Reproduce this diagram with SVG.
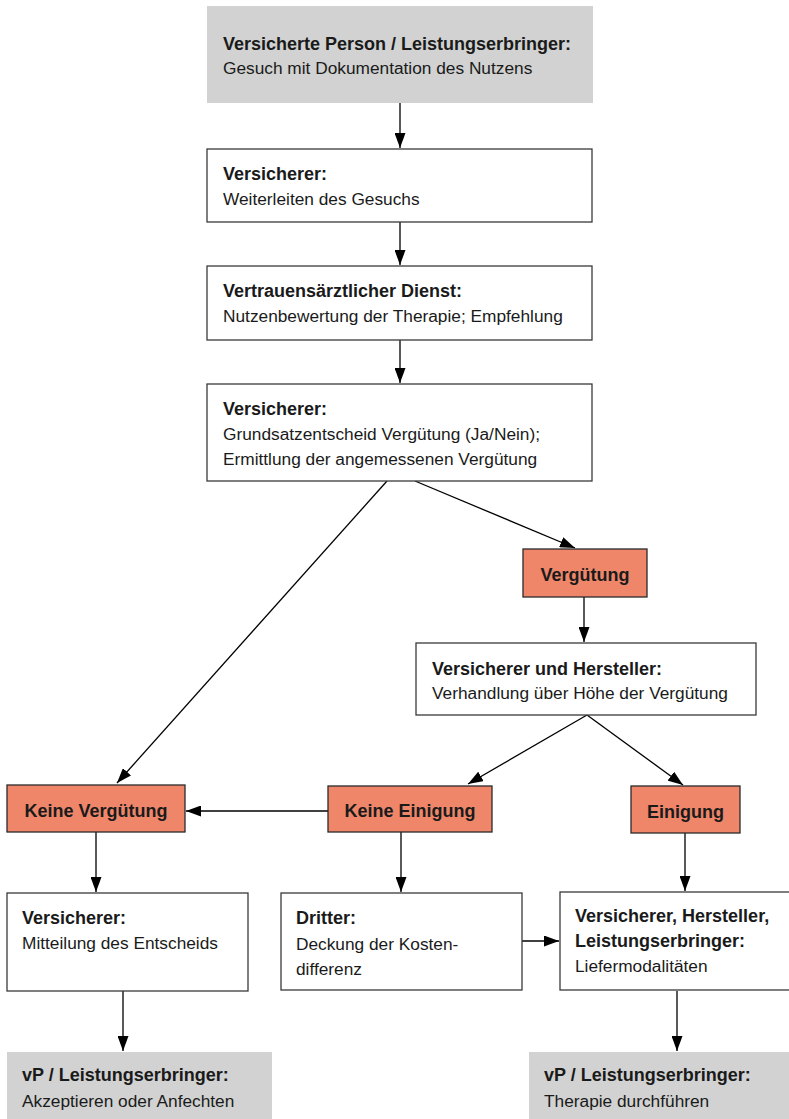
<svg xmlns="http://www.w3.org/2000/svg" width="789" height="1119" viewBox="0 0 789 1119">
<style>
.g{fill:#d1d2d1;stroke:none}
.w{fill:#ffffff;stroke:#3a3a3a;stroke-width:1.3}
.o{fill:#ef866a;stroke:#2a2a2a;stroke-width:1.3}
text{font-family:"Liberation Sans",Arial,sans-serif;fill:#1a1a1a}
.b{font-weight:bold;font-size:18px}
.r{font-size:17.3px}
.c{text-anchor:middle}
.l{stroke:#000;stroke-width:1.3;fill:none;marker-end:url(#ah)}
</style>
<defs>
<marker id="ah" viewBox="0 0 15 11" refX="15" refY="5.5" markerWidth="15" markerHeight="11" markerUnits="userSpaceOnUse" orient="auto">
<path d="M0,0 L15,5.5 L0,11 Z" fill="#000"/>
</marker>
</defs>
<g id="connectors">
<line class="l" x1="400" y1="103" x2="400" y2="148"/>
<line class="l" x1="400" y1="222" x2="400" y2="265"/>
<line class="l" x1="400" y1="340" x2="400" y2="383"/>
<line class="l" x1="387" y1="481" x2="117" y2="783"/>
<line class="l" x1="415" y1="481" x2="575" y2="548"/>
<line class="l" x1="584" y1="597" x2="584" y2="642"/>
<line class="l" x1="587" y1="715" x2="468" y2="784"/>
<line class="l" x1="587" y1="715" x2="683" y2="785"/>
<line class="l" x1="328" y1="811" x2="186" y2="811"/>
<line class="l" x1="96" y1="832" x2="96" y2="892"/>
<line class="l" x1="401" y1="832" x2="401" y2="892"/>
<line class="l" x1="685" y1="833" x2="685" y2="891"/>
<line class="l" x1="522" y1="941" x2="559" y2="941"/>
<line class="l" x1="123" y1="991" x2="123" y2="1051"/>
<line class="l" x1="677" y1="991" x2="677" y2="1051"/>
</g>
<g id="n1">
<rect class="g" x="207" y="6" width="386" height="97"/>
<text class="b" x="223" y="50">Versicherte Person / Leistungserbringer:</text>
<text class="r" x="223" y="74">Gesuch mit Dokumentation des Nutzens</text>
</g>
<g id="n2">
<rect class="w" x="207" y="149" width="385" height="73"/>
<text class="b" x="223" y="180">Versicherer:</text>
<text class="r" x="223" y="205">Weiterleiten des Gesuchs</text>
</g>
<g id="n3">
<rect class="w" x="207" y="266" width="385" height="74"/>
<text class="b" x="223" y="297">Vertrauensärztlicher Dienst:</text>
<text class="r" x="223" y="322">Nutzenbewertung der Therapie; Empfehlung</text>
</g>
<g id="n4">
<rect class="w" x="207" y="384" width="385" height="97"/>
<text class="b" x="223" y="415">Versicherer:</text>
<text class="r" x="223" y="440">Grundsatzentscheid Vergütung (Ja/Nein);</text>
<text class="r" x="223" y="465">Ermittlung der angemessenen Vergütung</text>
</g>
<g id="n5">
<rect class="o" x="523" y="549" width="124" height="48"/>
<text class="b c" x="585" y="581">Vergütung</text>
</g>
<g id="n6">
<rect class="w" x="416" y="643" width="340" height="72"/>
<text class="b" x="432" y="675">Versicherer und Hersteller:</text>
<text class="r" x="432" y="699">Verhandlung über Höhe der Vergütung</text>
</g>
<g id="n7">
<rect class="o" x="7" y="785" width="178" height="47"/>
<text class="b c" x="96" y="817">Keine Vergütung</text>
</g>
<g id="n8">
<rect class="o" x="328" y="786" width="164" height="46"/>
<text class="b c" x="410" y="817">Keine Einigung</text>
</g>
<g id="n9">
<rect class="o" x="631" y="786" width="109" height="47"/>
<text class="b c" x="685.5" y="818">Einigung</text>
</g>
<g id="n10">
<rect class="w" x="7" y="893" width="241" height="98"/>
<text class="b" x="22" y="924">Versicherer:</text>
<text class="r" x="22" y="949">Mitteilung des Entscheids</text>
</g>
<g id="n11">
<rect class="w" x="281" y="893" width="241" height="97"/>
<text class="b" x="296" y="924">Dritter:</text>
<text class="r" x="296" y="950">Deckung der Kosten-</text>
<text class="r" x="296" y="975">differenz</text>
</g>
<g id="n12">
<rect class="w" x="560" y="892" width="240" height="98"/>
<text class="b" x="575" y="922">Versicherer, Hersteller,</text>
<text class="b" x="575" y="947">Leistungserbringer:</text>
<text class="r" x="575" y="972">Liefermodalitäten</text>
</g>
<g id="n13">
<rect class="g" x="7" y="1052" width="265" height="67"/>
<text class="b" x="22" y="1081">vP / Leistungserbringer:</text>
<text class="r" x="22" y="1107">Akzeptieren oder Anfechten</text>
</g>
<g id="n14">
<rect class="g" x="529" y="1052" width="260" height="67"/>
<text class="b" x="544" y="1081">vP / Leistungserbringer:</text>
<text class="r" x="544" y="1107">Therapie durchführen</text>
</g>
</svg>
